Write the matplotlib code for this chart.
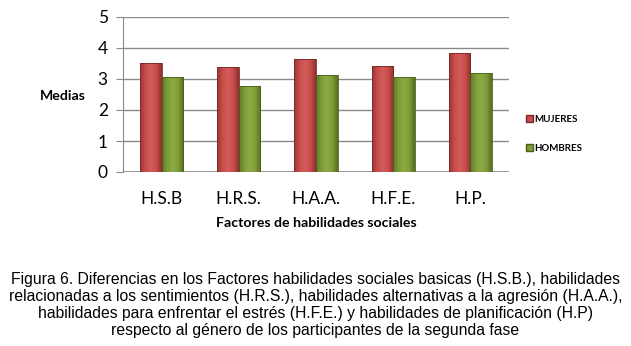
import numpy as np
import matplotlib.pyplot as plt
from matplotlib.colors import LinearSegmentedColormap
from matplotlib.patches import Patch

categories = ['H.S.B', 'H.R.S.', 'H.A.A.', 'H.F.E.', 'H.P.']
mujeres = [3.52, 3.39, 3.65, 3.43, 3.84]
hombres = [3.06, 2.77, 3.13, 3.06, 3.20]

caption = ("Figura 6. Diferencias en los Factores habilidades sociales basicas (H.S.B.), habilidades\n"
           "relacionadas a los sentimientos (H.R.S.), habilidades alternativas a la agresión (H.A.A.),\n"
           "habilidades para enfrentar el estrés (H.F.E.) y habilidades de planificación (H.P)\n"
           "respecto al género de los participantes de la segunda fase")

red_cmap = LinearSegmentedColormap.from_list('r', ['#9c3533', '#c94d4b', '#d45c5a', '#c94d4b', '#8f302e'])
green_cmap = LinearSegmentedColormap.from_list('g', ['#5e7a26', '#7f9c3a', '#8dab45', '#7f9c3a', '#56701f'])

fig = plt.figure(figsize=(6.31, 3.46), dpi=100)
ax = fig.add_axes([123/631, 1 - 172/346, 386/631, 155/346])

x = np.arange(len(categories))
w = 0.28
grad = np.linspace(0, 1, 64).reshape(1, -1)

def draw_bars(xs, vals, cmap, edge):
    bars = ax.bar(xs, vals, w, color='none', edgecolor=edge, linewidth=0.6, zorder=3)
    for b in bars:
        im = ax.imshow(grad, cmap=cmap, aspect='auto', zorder=2.5,
                       extent=[b.get_x(), b.get_x() + b.get_width(), 0, b.get_height()])
        im.set_clip_path(b)
    return bars

draw_bars(x - w/2, mujeres, red_cmap, '#7a2826')
draw_bars(x + w/2, hombres, green_cmap, '#4a6019')

ax.set_xlim(-0.5, len(categories) - 0.5)
ax.set_ylim(0, 5)
ax.set_yticks(range(6))
ax.grid(axis='y', color='#8a8a8a', linewidth=1)
ax.set_axisbelow(True)
for s in ['top', 'right', 'bottom']:
    ax.spines[s].set_visible(False)
ax.spines['left'].set_color('#8a8a8a')
ax.axhline(0, color='#8a8a8a', linewidth=1.2, zorder=1)
ax.tick_params(axis='y', length=5, color='#8a8a8a', labelsize=12.5, pad=6)
ax.tick_params(axis='x', length=0, labelsize=12.5, pad=14)
ax.set_xticks(x)
ax.set_xticklabels(categories)
for lbl in ax.get_xticklabels() + ax.get_yticklabels():
    lbl.set_family('Lato')

ax.set_xlabel('Factores de habilidades sociales', fontsize=10.2, fontweight='bold', family='Lato', labelpad=7)
fig.text(63/631, 1 - 96/346, 'Medias', fontsize=10.2, fontweight='bold', family='Lato', ha='center', va='center')

handles = [Patch(facecolor='#c94d4b', edgecolor='#7a2826'), Patch(facecolor='#7f9c3a', edgecolor='#4a6019')]
fig.legend(handles, ['MUJERES', 'HOMBRES'], loc='center left', bbox_to_anchor=(517/631, 1 - 134/346),
           frameon=False, prop={'family': 'Lato', 'weight': 'bold', 'size': 7},
           handlelength=0.7, handleheight=0.7, handletextpad=0.2, labelspacing=2.0)

fig.text(0.5, 1 - 305/346, caption, fontsize=11.3, family='Liberation Sans',
         ha='center', va='center', linespacing=1.17)

fig.savefig('out.png', dpi=100)
